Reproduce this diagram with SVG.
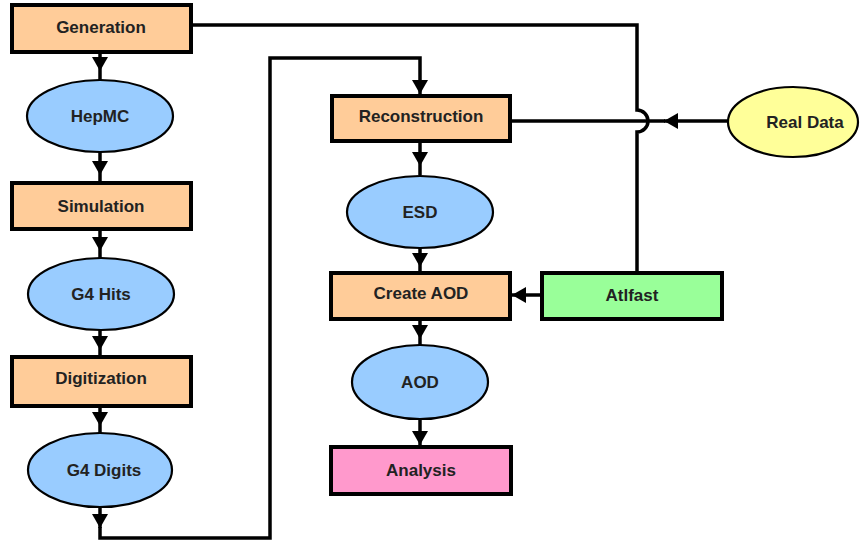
<svg xmlns="http://www.w3.org/2000/svg" width="860" height="541" viewBox="0 0 860 541">
<defs>
<style>
.box{stroke:#000;stroke-width:4}
.ell{stroke:#000;stroke-width:2.2}
.proc{fill:#FFCC99}
.data{fill:#99CCFF}
.fast{fill:#99FF99}
.ana{fill:#FF99CC}
.real{fill:#FFFF99}
.lbl{font-family:"Liberation Sans",Arial,Helvetica,sans-serif;font-weight:bold;font-size:17px;fill:#222;text-anchor:middle}
.con{fill:none;stroke:#000;stroke-width:3.5}
</style>
<marker id="arr" markerUnits="userSpaceOnUse" markerWidth="14" markerHeight="16" viewBox="0 0 14 16" refX="14" refY="8" orient="auto">
<path d="M0,0 L14,8 L0,16 z" fill="#000"/>
</marker>
</defs>
<rect width="860" height="541" fill="#fff"/>
<g id="connectors">
<path class="con" d="M100,52 L100,71 L100,80" marker-mid="url(#arr)"/>
<path class="con" d="M100,152 L100,175 L100,183" marker-mid="url(#arr)"/>
<path class="con" d="M100,229 L100,251 L100,258" marker-mid="url(#arr)"/>
<path class="con" d="M100,330 L100,350 L100,357" marker-mid="url(#arr)"/>
<path class="con" d="M100,406 L100,426 L100,433" marker-mid="url(#arr)"/>
<path class="con" d="M100,507 L100,528" marker-end="url(#arr)"/>
<path class="con" d="M100,527 L100,538 L270,538 L270,58 L420,58 L420,94" marker-end="url(#arr)"/>
<path class="con" d="M420,141 L420,166 L420,175" marker-mid="url(#arr)"/>
<path class="con" d="M420,248 L420,267 L420,273" marker-mid="url(#arr)"/>
<path class="con" d="M420,319 L420,339 L420,345" marker-mid="url(#arr)"/>
<path class="con" d="M420,419 L420,445" marker-end="url(#arr)"/>
<path class="con" d="M191,25 L637,25 L637,110 A11,11 0 0 1 637,132 L637,273"/>
<path class="con" d="M728,121 L664,121" marker-end="url(#arr)"/>
<path class="con" d="M665,121 L510,121"/>
<path class="con" d="M542,295 L512,295" marker-end="url(#arr)"/>
</g>
<g id="generation"><rect class="box proc" x="12" y="5" width="179" height="47"/><text class="lbl" x="101" y="33">Generation</text></g>
<g id="hepmc"><ellipse class="ell data" cx="100" cy="116" rx="73" ry="36"/><text class="lbl" x="100" y="122">HepMC</text></g>
<g id="simulation"><rect class="box proc" x="12" y="183" width="179" height="46"/><text class="lbl" x="101" y="212">Simulation</text></g>
<g id="g4hits"><ellipse class="ell data" cx="101" cy="294" rx="73" ry="36"/><text class="lbl" x="101" y="300">G4 Hits</text></g>
<g id="digitization"><rect class="box proc" x="12" y="357" width="179" height="49"/><text class="lbl" x="101" y="384">Digitization</text></g>
<g id="g4digits"><ellipse class="ell data" cx="100" cy="470" rx="72" ry="37"/><text class="lbl" x="104" y="476">G4 Digits</text></g>
<g id="reconstruction"><rect class="box proc" x="332" y="96" width="178" height="45"/><text class="lbl" x="421" y="122">Reconstruction</text></g>
<g id="esd"><ellipse class="ell data" cx="420" cy="212" rx="73" ry="36"/><text class="lbl" x="420" y="218">ESD</text></g>
<g id="createaod"><rect class="box proc" x="331" y="273" width="179" height="46"/><text class="lbl" x="421" y="299">Create AOD</text></g>
<g id="aod"><ellipse class="ell data" cx="420" cy="382" rx="68" ry="37"/><text class="lbl" x="420" y="388">AOD</text></g>
<g id="analysis"><rect class="box ana" x="331" y="447" width="180" height="47"/><text class="lbl" x="421" y="476">Analysis</text></g>
<g id="atlfast"><rect class="box fast" x="542" y="273" width="180" height="46"/><text class="lbl" x="632" y="301">Atlfast</text></g>
<g id="realdata"><ellipse class="ell real" cx="793" cy="122" rx="65" ry="35"/><text class="lbl" x="805" y="128">Real Data</text></g>
</svg>
